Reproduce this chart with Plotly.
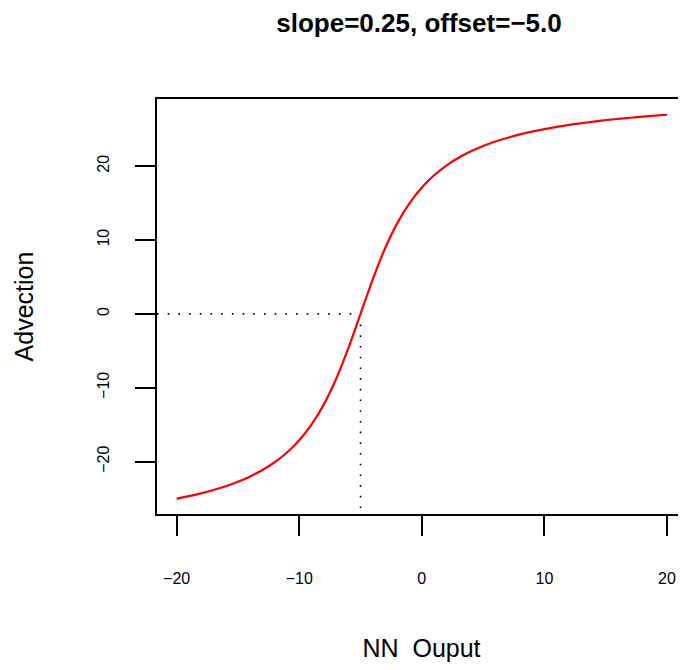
import plotly.graph_objects as go

# Data
slope = 0.25
offset = -5.0
nn_output = [-20, -19, -18, -17, -16, -15, -14, -13, -12, -11, -10, -9, -8, -7, -6, -5,
             -4, -3, -2, -1, 0, 1, 2, 3, 4, 5, 6, 7, 8, 9, 10,
             11, 12, 13, 14, 15, 16, 17, 18, 19, 20]
advection = [-25.02, -24.68, -24.30, -23.85, -23.34, -22.73, -22.01, -21.14, -20.09, -18.77, -17.11,
             -15.00, -12.29, -8.86, -4.68, 0.00,
             4.68, 8.86, 12.29, 15.00, 17.11, 18.77, 20.09, 21.14, 22.01, 22.73, 23.34, 23.85,
             24.30, 24.68, 25.02,
             25.32, 25.59, 25.82, 26.04, 26.23, 26.41, 26.56, 26.71, 26.84, 26.97]
x_ticks = [-20, -10, 0, 10, 20]
y_ticks = [-20, -10, 0, 10, 20]
title_text = "slope=0.25, offset=\u22125.0"
x_title = "NN  Ouput"
y_title = "Advection"

x_range = [-21.6, 21.55]
y_range = [-27.1, 29.1]

FONT = "Liberation Sans, Arial, Helvetica, sans-serif"
W, H = 678, 654

fig = go.Figure()

# dotted guide lines at the offset
fig.add_trace(go.Scatter(
    x=[x_range[0], offset], y=[0, 0], mode="lines",
    line=dict(color="black", width=1.6, dash="1.6px,9.1px"),
    hoverinfo="skip", showlegend=False))
fig.add_trace(go.Scatter(
    x=[offset, offset], y=[0, y_range[0]], mode="lines",
    line=dict(color="black", width=1.6, dash="1.6px,9.1px"),
    hoverinfo="skip", showlegend=False))

fig.add_trace(go.Scatter(
    x=nn_output, y=advection, mode="lines",
    line=dict(color="#FF0000", width=2.2, shape="spline"),
    showlegend=False))

fig.update_layout(
    width=W, height=H,
    margin=dict(l=149, r=0, t=91, b=148),
    paper_bgcolor="white", plot_bgcolor="white",
    font=dict(family=FONT, color="black"),
    title=dict(text="<b>" + title_text + "</b>", x=411 / W, xref="container", xanchor="center",
               y=1 - 14.5 / H, yref="container", yanchor="middle",
               font=dict(size=26, family=FONT, color="black")),
    showlegend=False,
)

fig.update_xaxes(
    range=x_range, tickvals=x_ticks, ticktext=[f"{v:g}".replace("-", "\u2212") for v in x_ticks],
    showgrid=False, zeroline=False,
    showline=True, linecolor="black", linewidth=2, mirror=True,
    ticks="outside", ticklen=20, tickwidth=2, tickcolor="black",
    tickfont=dict(size=16, family=FONT, color="black"),
    ticklabelstandoff=29,
    title=dict(text=x_title, font=dict(size=25, family=FONT, color="black"), standoff=56),
)
fig.update_yaxes(
    range=y_range, tickvals=y_ticks, ticktext=[f"{v:g}".replace("-", "\u2212") for v in y_ticks],
    showgrid=False, zeroline=False,
    showline=True, linecolor="black", linewidth=2, mirror=False,
    ticks="outside", ticklen=20, tickwidth=2, tickcolor="black",
    tickangle=-90,
    tickfont=dict(size=16, family=FONT, color="black"),
    ticklabelstandoff=20,
    title=dict(text=y_title, font=dict(size=25, family=FONT, color="black"), standoff=54),
)

fig.write_html("out.html")
